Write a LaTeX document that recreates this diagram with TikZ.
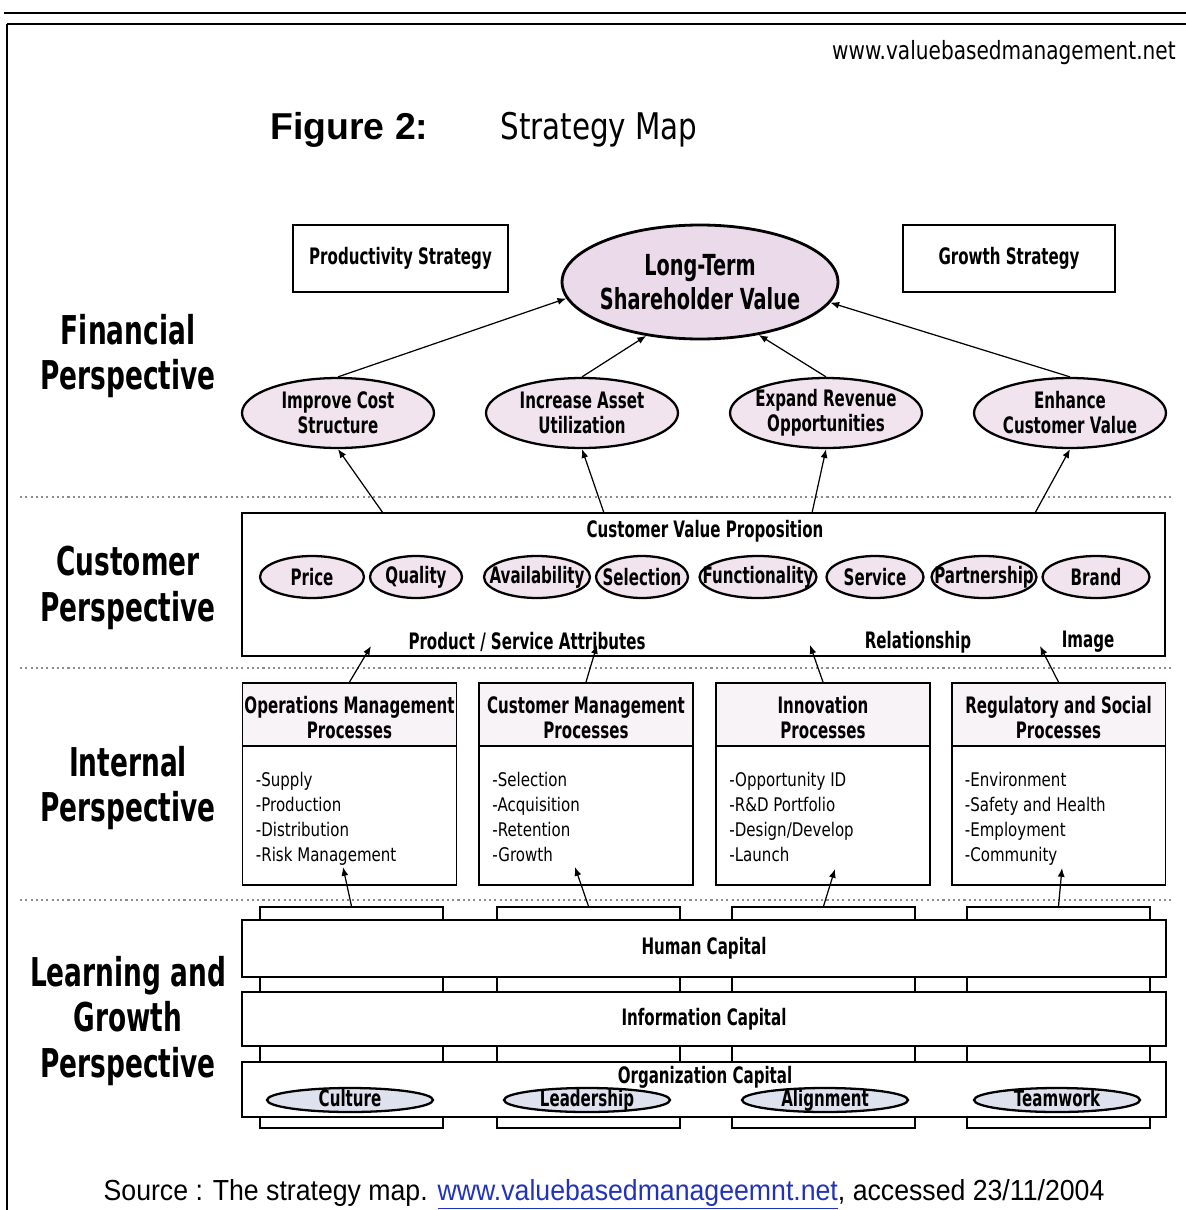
\documentclass[tikz,border=0pt]{standalone}
\usepackage{fontspec}
\usetikzlibrary{arrows.meta,shapes.geometric}

\newfontfamily\mapbold[FakeStretch=0.665]{DejaVu Sans}
\newfontfamily\mapreg[FakeStretch=0.8]{DejaVu Sans}
\newfontfamily\arialfont{Liberation Sans}
\newfontfamily\srcfont[FakeStretch=0.92]{Liberation Sans}

\newcommand{\lblfont}{\mapbold\bfseries\fontsize{12.9}{14.2}\selectfont}
\newcommand{\perspfont}{\mapbold\bfseries\fontsize{22.6}{26}\selectfont}
\newcommand{\itemfont}{\mapreg\fontsize{10.7}{14.2}\selectfont}
\newcommand{\zw}[1]{\makebox[0pt]{#1}}

\definecolor{ovalpink}{HTML}{F1E4EF}
\definecolor{bigpink}{HTML}{EBDAEA}
\definecolor{ovalblue}{HTML}{DDE2EE}
\definecolor{headfill}{HTML}{F8F3F6}
\definecolor{sepgray}{HTML}{8C8C8C}
\definecolor{linkblue}{HTML}{2233BB}

\tikzset{
  box/.style={draw, line width=1.1pt, inner sep=0pt, font=\lblfont, align=center},
  oval/.style={ellipse, draw, line width=1.3pt, fill=ovalpink, inner sep=0pt, font=\lblfont, align=center},
  link/.style={-{Latex[length=5pt,width=4pt]}, line width=0.7pt},
  sep/.style={sepgray, line width=0.9pt, dash pattern=on 1.2pt off 1.8pt},
  persp/.style={font=\perspfont, align=center, inner sep=0pt}
}

\begin{document}
\begin{tikzpicture}[x=0.02cm, y=-0.02cm]

    \useasboundingbox[fill=white] (0,0) rectangle (1186,1210);

    % Frame
    \draw[line width=0.6pt] (4,13) -- (1186,13);
    \draw[line width=1.4pt] (7,24) -- (1186,24);
    \draw[line width=1.2pt] (7,24) -- (7,1210);

    % Heading
    \node[anchor=base east, inner sep=0pt, font=\mapreg\fontsize{14.3}{16}\selectfont] (site) at (1176,59) {www.valuebasedmanagement.net};
    \node[anchor=base west, inner sep=0pt, font=\arialfont\bfseries\fontsize{21.3}{24}\selectfont] (fig) at (270,139) {Figure 2:};
    \node[anchor=base west, inner sep=0pt, font=\mapreg\fontsize{20.9}{24}\selectfont] (title) at (500,139) {Strategy Map};

    % Perspectives
    \node[persp] (fin) at (128,356) {Financial\\Perspective};
    \node[persp] (cus) at (128,588) {Customer\\Perspective};
    \node[persp] (int) at (128,788) {Internal\\Perspective};
    \node[persp] (lrn) at (128,1021) {Learning and\\Growth\\Perspective};

    % Separators
    \draw[sep] (20,497) -- (1172,497);
    \draw[sep] (20,668) -- (1172,668);
    \draw[sep] (20,900) -- (1172,900);

    % Financial
    \node[box, minimum width=4.3cm, minimum height=1.34cm] (prod) at (400.5,258.5) {Productivity Strategy};
    \node[box, minimum width=4.24cm, minimum height=1.34cm] (grow) at (1009,258.5) {Growth Strategy};
    \node[oval, fill=bigpink, line width=1.6pt, minimum width=5.52cm, minimum height=2.28cm,
          font=\mapbold\bfseries\fontsize{16.5}{19}\selectfont] (ltsv) at (700,282) {\zw{Long-Term}\\\zw{Shareholder Value}};

    \node[oval, minimum width=3.84cm, minimum height=1.4cm] (cost) at (338,413) {\zw{Improve Cost}\\\zw{Structure}};
    \node[oval, minimum width=3.84cm, minimum height=1.4cm] (asset) at (582,413) {\zw{Increase Asset}\\\zw{Utilization}};
    \node[oval, minimum width=3.84cm, minimum height=1.4cm] (rev) at (826,413) {\zw{Expand Revenue}\\\zw{Opportunities}};
    \node[oval, minimum width=3.84cm, minimum height=1.4cm] (cval) at (1070,413) {\zw{Enhance}\\\zw{Customer Value}};

    \draw[link] (cost.north) -- (ltsv.187);
    \draw[link] (asset.north) -- (ltsv.225);
    \draw[link] (rev.north) -- (ltsv.318);
    \draw[link] (cval.north) -- (ltsv.351);

    % Customer
    \node[box, minimum width=18.46cm, minimum height=2.86cm] (cvp) at (703.5,584.5) {};
    \node[font=\lblfont] (cvptitle) at (705,531) {Customer Value Proposition};
    \foreach \x/\w/\t [count=\i] in {312/104/Price, 416/92/Quality, 537/106/Availability, 642/92/Selection,
        758/117/Functionality, 875/97/Service, 984/105/Partnership, 1096/107/Brand}
      \node[oval, minimum width=\w*0.02cm, minimum height=0.84cm] (attr\i) at (\x,577) {\zw{\t}};
    \node[font=\lblfont] (pattr) at (527,642) {Product / Service Attributes};
    \node[font=\lblfont] (rel) at (918,642) {Relationship};
    \node[font=\lblfont] (img) at (1088,642) {Image};

    \coordinate (cv1) at (383,513);
    \coordinate (cv2) at (604,513);
    \coordinate (cv3) at (812,513);
    \coordinate (cv4) at (1035,513);
    \draw[link] (cv1) -- (cost.south);
    \draw[link] (cv2) -- (asset.south);
    \draw[link] (cv3) -- (rev.south);
    \draw[link] (cv4) -- (cval.south);

    % Internal processes
    \foreach \x/\head/\items [count=\i] in {
        349.5/{Operations Management\\Processes}/{-Supply\\-Production\\-Distribution\\-Risk Management},
        586/{Customer Management\\Processes}/{-Selection\\-Acquisition\\-Retention\\-Growth},
        823/{Innovation\\Processes}/{-Opportunity ID\\-R\&D Portfolio\\-Design/Develop\\-Launch},
        1058.5/{Regulatory and Social\\Processes}/{-Environment\\-Safety and Health\\-Employment\\-Community}} {
      \node[box, fill=headfill, minimum width=4.28cm, minimum height=1.26cm] (head\i) at (\x,714.5) {};
      \node[font=\lblfont, align=center, inner sep=0pt] (htext\i) at (\x,718) {\head};
      \node[box, minimum width=4.28cm, minimum height=2.78cm] (body\i) at (\x,815.5) {};
      \node[anchor=north west, inner sep=0pt, align=left, font=\itemfont] (list\i) at ([xshift=0.28cm]body\i.west |- 0,772) {\items};
    }

    \coordinate (p1) at (371,646);
    \coordinate (p2) at (597,645);
    \coordinate (p3) at (810,645);
    \coordinate (p4) at (1040,646);
    \foreach \i in {1,...,4}
      \draw[link] (head\i.north) -- (p\i);

    % Learning and growth
    \foreach \x [count=\i] in {351.5, 588.5, 823.5, 1058.5}
      \node[draw, line width=0.9pt, fill=white, minimum width=3.66cm, minimum height=4.42cm] (col\i) at (\x,1017.5) {};

    \node[box, fill=white, minimum width=18.48cm, minimum height=1.14cm] (hc) at (704,948.5) {Human Capital};
    \node[box, fill=white, minimum width=18.48cm, minimum height=1.08cm] (ic) at (704,1019) {Information Capital};
    \node[box, fill=white, minimum width=18.48cm, minimum height=1.1cm] (oc) at (704,1089.5) {};
    \node[font=\lblfont, inner sep=0pt] (octitle) at (705,1077) {Organization Capital};
    \foreach \x/\t [count=\i] in {350/Culture, 587/Leadership, 825/Alignment, 1057/Teamwork}
      \node[oval, fill=ovalblue, text height=0.72em, text depth=0pt, minimum width=3.32cm, minimum height=0.48cm] (org\i) at (\x,1100) {\zw{\t}};

    \coordinate (q1) at (343,867);
    \coordinate (q2) at (575,867);
    \coordinate (q3) at (835,869);
    \coordinate (q4) at (1062,868);
    \foreach \i in {1,...,4}
      \draw[link] (col\i.north) -- (q\i);

    % Source
    \node[anchor=base, inner sep=0pt, font=\srcfont\fontsize{16.5}{20}\selectfont] (src) at (604,1200)
      {Source : The strategy map. \textcolor{linkblue}{\underline{www.valuebasedmanageemnt.net}}, accessed 23/11/2004};

\end{tikzpicture}
\end{document}
